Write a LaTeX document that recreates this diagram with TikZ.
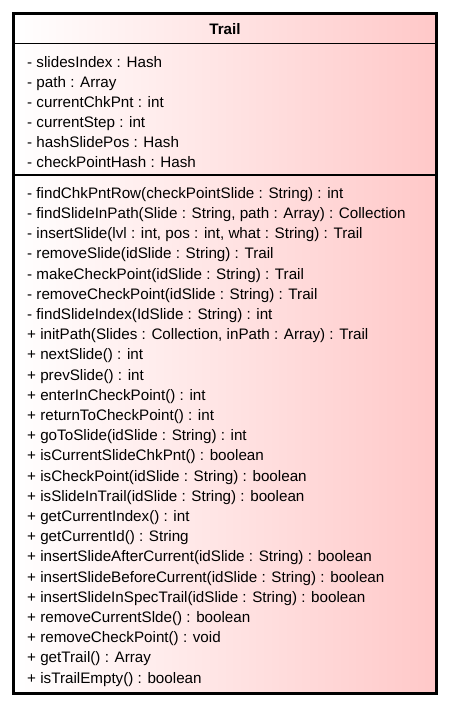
\documentclass[tikz,border=0pt]{standalone}
\usepackage{fontspec}
\setmainfont{Liberation Sans}
\definecolor{umlpink}{RGB}{255,200,200}
\begin{document}
\begin{tikzpicture}[x=1pt,y=-1pt,
  member/.style={anchor=base west,inner sep=0pt,font=\fontsize{15.2}{17}\selectfont},
  titletext/.style={anchor=base,inner sep=0pt,font=\fontsize{15.2}{17}\selectfont\bfseries},
  sepline/.style={line width=1.4pt},
  frame/.style={line width=3pt}]
\useasboundingbox (0,0) rectangle (449,706);
\shade[left color=white,right color=umlpink] (13.5,13.5) rectangle (436.5,693.5);
\node[titletext] (title) at (225,35) {Trail};
\draw[sepline] (13.5,43.5) -- (436.5,43.5);
\draw[sepline] (13.5,175) -- (436.5,175);
\foreach \t [count=\i from 0] in {
  {- slidesIndex : Hash},
  {- path : Array},
  {- currentChkPnt : int},
  {- currentStep : int},
  {- hashSlidePos : Hash},
  {- checkPointHash : Hash}}
  \node[member] (a\i) at (27,68+19.9*\i) {\t};
\foreach \t [count=\i from 0] in {
  {- findChkPntRow(checkPointSlide : String) : int},
  {- findSlideInPath(Slide : String, path : Array) : Collection},
  {- insertSlide(lvl : int, pos : int, what : String) : Trail},
  {- removeSlide(idSlide : String) : Trail},
  {- makeCheckPoint(idSlide : String) : Trail},
  {- removeCheckPoint(idSlide : String) : Trail},
  {- findSlideIndex(IdSlide : String) : int},
  {+ initPath(Slides : Collection, inPath : Array) : Trail},
  {+ nextSlide() : int},
  {+ prevSlide() : int},
  {+ enterInCheckPoint() : int},
  {+ returnToCheckPoint() : int},
  {+ goToSlide(idSlide : String) : int},
  {+ isCurrentSlideChkPnt() : boolean},
  {+ isCheckPoint(idSlide : String) : boolean},
  {+ isSlideInTrail(idSlide : String) : boolean},
  {+ getCurrentIndex() : int},
  {+ getCurrentId() : String},
  {+ insertSlideAfterCurrent(idSlide : String) : boolean},
  {+ insertSlideBeforeCurrent(idSlide : String) : boolean},
  {+ insertSlideInSpecTrail(idSlide : String) : boolean},
  {+ removeCurrentSlde() : boolean},
  {+ removeCheckPoint() : void},
  {+ getTrail() : Array},
  {+ isTrailEmpty() : boolean}}
  \node[member] (m\i) at (27,198.3+20.2*\i) {\t};
\draw[frame] (13.5,13.5) rectangle (436.5,693.5);
\end{tikzpicture}
\end{document}
